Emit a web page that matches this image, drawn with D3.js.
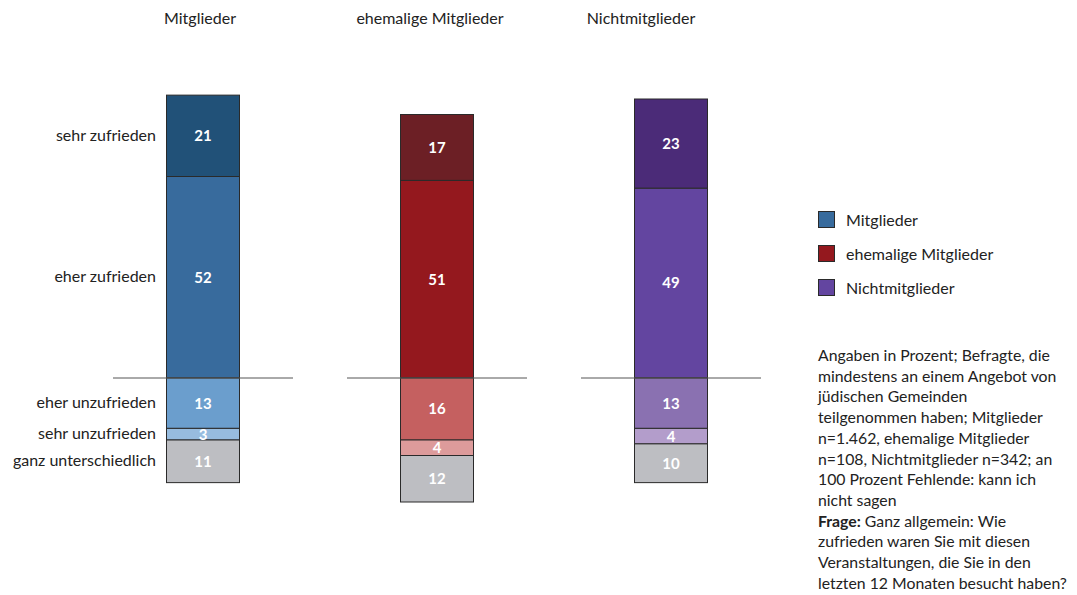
<!DOCTYPE html>
<html><head><meta charset="utf-8">
<script src="https://cdn.jsdelivr.net/npm/d3@7"></script>
<style>body{margin:0;background:#fff}svg{display:block}text{font-family:Lato,"Open Sans",sans-serif}</style>
</head><body><svg id="c" width="1077" height="595"></svg>
<script>
const groups = ["Mitglieder","ehemalige Mitglieder","Nichtmitglieder"];
const categories = ["sehr zufrieden","eher zufrieden","eher unzufrieden","sehr unzufrieden","ganz unterschiedlich"];
const sehrZufrieden = [21,17,23];
const eherZufrieden = [52,51,49];
const eherUnzufrieden = [13,16,13];
const sehrUnzufrieden = [3,4,4];
const ganzUnterschiedlich = [11,12,10];
const colors = {
  "Mitglieder": ["#215178","#386b9d","#6b9ecd","#97bcdf","#bdbec2"],
  "ehemalige Mitglieder": ["#6c1f25","#94181e","#c56060","#dd9b9b","#bdbec2"],
  "Nichtmitglieder": ["#4b2b78","#6345a0","#8a71b1","#b39dcb","#bdbec2"]
};
const legendColors = ["#386b9d","#94181e","#6345a0"];
const noteLines = [
  [["Angaben in Prozent; Befragte, die",false]],
  [["mindestens an einem Angebot von",false]],
  [["jüdischen Gemeinden",false]],
  [["teilgenommen haben; Mitglieder",false]],
  [["n=1.462, ehemalige Mitglieder",false]],
  [["n=108, Nichtmitglieder n=342; an",false]],
  [["100 Prozent Fehlende: kann ich",false]],
  [["nicht sagen",false]],
  [["Frage:",true],[" Ganz allgemein: Wie",false]],
  [["zufrieden waren Sie mit diesen",false]],
  [["Veranstaltungen, die Sie in den",false]],
  [["letzten 12 Monaten besucht haben?",false]]
];

const svg = d3.select("#c");
const y = d3.scaleLinear().domain([-40,80]).range([533,68]);
const x = d3.scalePoint().domain(groups).range([203,671]);
const barW = 73;
const fs = 16;

const series = [sehrZufrieden, eherZufrieden, eherUnzufrieden, sehrUnzufrieden, ganzUnterschiedlich];

groups.forEach((g,gi)=>{
  const segs = [];
  segs.push({cat:1, v:eherZufrieden[gi], y0:0, y1:eherZufrieden[gi]});
  segs.push({cat:0, v:sehrZufrieden[gi], y0:eherZufrieden[gi], y1:eherZufrieden[gi]+sehrZufrieden[gi]});
  let acc = 0;
  [2,3,4].forEach(ci=>{
    const v = series[ci][gi];
    segs.push({cat:ci, v, y0:-acc, y1:-(acc+v)});
    acc += v;
  });
  const cx = x(g);
  const gg = svg.append("g");
  gg.selectAll("rect").data(segs).join("rect")
    .attr("x", cx-barW/2)
    .attr("width", barW)
    .attr("y", d=>Math.min(y(d.y0),y(d.y1)))
    .attr("height", d=>Math.abs(y(d.y0)-y(d.y1)))
    .attr("fill", d=>colors[g][d.cat])
    .attr("stroke","#2a2a2a").attr("stroke-width",1);
  gg.selectAll("text.v").data(segs).join("text").attr("class","v")
    .attr("x", cx).attr("y", d=>(y(d.y0)+y(d.y1))/2)
    .attr("dy","0.36em").attr("text-anchor","middle")
    .attr("fill","#fff").attr("font-weight","bold").attr("font-size",15)
    .text(d=>d.v);
  svg.append("line").attr("x1",cx-90).attr("x2",cx+90)
    .attr("y1",y(0)).attr("y2",y(0)).attr("stroke","#555").attr("stroke-width",1);
  svg.append("text").attr("x", cx-3 - (gi===1?4:0) - (gi===2?27:0)).attr("y",24)
    .attr("text-anchor","middle").attr("font-size",fs).attr("fill","#222").text(g);

  if(gi===0){
    segs.forEach(d=>{
      svg.append("text").attr("x",156).attr("y",(y(d.y0)+y(d.y1))/2)
        .attr("dy","0.3em").attr("text-anchor","end").attr("font-size",fs)
        .attr("fill","#222").text(categories[d.cat]);
    });
  }
});

const lg = svg.append("g");
groups.forEach((g,i)=>{
  lg.append("rect").attr("x",818.5).attr("y",211.5+i*34).attr("width",16).attr("height",16)
    .attr("fill",legendColors[i]).attr("stroke","#2a2a2a");
  lg.append("text").attr("x",846).attr("y",220+i*34).attr("dy","0.35em")
    .attr("font-size",fs).attr("fill","#222").text(g);
});

const nt = svg.append("text").attr("font-size",15.8).attr("fill","#222");
noteLines.forEach((line,i)=>{
  line.forEach((part,j)=>{
    const ts = nt.append("tspan").text(part[0]).attr("font-weight",part[1]?"bold":"normal");
    if(j===0) ts.attr("x",818).attr("y",361+i*20.7);
  });
});
</script></body></html>
